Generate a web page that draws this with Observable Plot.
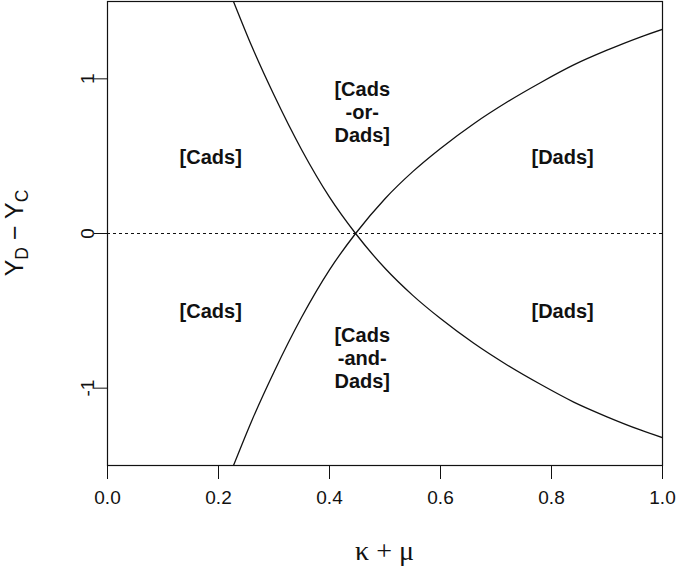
<!DOCTYPE html>
<html><head><meta charset="utf-8">
<script src="https://cdn.jsdelivr.net/npm/d3@7"></script>
<script src="https://cdn.jsdelivr.net/npm/@observablehq/plot@0.6"></script>
<style>body{margin:0;background:#fff} svg{display:block}</style>
</head><body><div id="chart"></div>
<script>
// Curve samples
const curveX      = [0.227, 0.26, 0.30, 0.35, 0.40, 0.447, 0.50, 0.55, 0.60, 0.66, 0.72, 0.78, 0.84, 0.90, 0.96, 1.0];
const decreasingY = [1.50, 1.21, 0.895, 0.54, 0.235, 0, -0.225, -0.40, -0.55, -0.71, -0.85, -0.975, -1.09, -1.185, -1.27, -1.32];
const increasingY = [-1.50, -1.21, -0.895, -0.54, -0.235, 0, 0.225, 0.40, 0.55, 0.71, 0.85, 0.975, 1.09, 1.185, 1.27, 1.32];

const xTicks = [0, 0.2, 0.4, 0.6, 0.8, 1.0];
const yTicks = [-1, 0, 1];

const regionLabels = ["[Cads]", "[Cads]", "[Dads]", "[Dads]", "[Cads\n-or-\nDads]", "[Cads\n-and-\nDads]"];
const labelX = [0.186, 0.186, 0.82, 0.82, 0.459, 0.459];
const labelY = [0.5, -0.5, 0.5, -0.5, 0.79, -0.8];

const decData = curveX.map((x, i) => ({x, y: decreasingY[i]}));
const incData = curveX.map((x, i) => ({x, y: increasingY[i]}));
const labData = regionLabels.map((t, i) => ({t, x: labelX[i], y: labelY[i]}));

const W = 677, H = 574;
const plot = Plot.plot({
  width: W, height: H,
  marginLeft: 107, marginRight: 15, marginTop: 1, marginBottom: 109,
  x: {domain: [0, 1]},
  y: {domain: [-1.5, 1.5]},
  style: {fontFamily: "'Liberation Sans', Arial, sans-serif", fontSize: "19px", color: "#111", background: "#fff"},
  marks: [
    Plot.ruleY([0], {stroke: "#111", strokeDasharray: "3,3", strokeWidth: 1}),
    Plot.line(decData, {x: "x", y: "y", curve: "monotone-x", stroke: "#111", strokeWidth: 1.3, clip: true}),
    Plot.line(incData, {x: "x", y: "y", curve: "monotone-x", stroke: "#111", strokeWidth: 1.3, clip: true}),
    Plot.text(labData, {x: "x", y: "y", text: "t", fontWeight: "bold", fontSize: 20, lineHeight: 1.15,
      textAnchor: "middle", lineAnchor: "middle", fill: "#111"}),
    Plot.frame({stroke: "#111", strokeWidth: 1.2}),
    Plot.axisX({ticks: xTicks, tickSize: 14, tickPadding: 11, tickFormat: d3.format(".1f"), label: null, stroke: "#111", fill: "#111"}),
    Plot.axisY({ticks: yTicks, tickSize: 13, label: null, stroke: "#111", fill: "none", tickFormat: () => ""}),
    Plot.text(yTicks, {y: d => d, text: d => String(d), frameAnchor: "left", dx: -20, rotate: -90,
      textAnchor: "middle", lineAnchor: "middle", fontSize: 19, fill: "#111"})
  ]
});
document.getElementById("chart").appendChild(plot);

const svg = d3.select(plot);
// y axis title: Y_D − Y_C
const yt = svg.append("text")
  .attr("transform", "translate(23,233) rotate(-90)")
  .attr("text-anchor", "middle")
  .attr("font-family", "'Liberation Sans', Arial, sans-serif")
  .attr("font-size", 25).attr("fill", "#111");
yt.append("tspan").text("Y");
yt.append("tspan").attr("font-size", 17.5).attr("dy", 5).text("D");
yt.append("tspan").attr("dy", -5).text(" \u2212 Y");
yt.append("tspan").attr("font-size", 17.5).attr("dy", 5).text("C");

// x axis title: κ + μ
svg.append("text")
  .attr("x", 384.5).attr("y", 560)
  .attr("text-anchor", "middle")
  .attr("font-family", "'Liberation Serif', 'DejaVu Serif', serif")
  .attr("font-size", 28).attr("fill", "#111")
  .text("\u03BA + \u03BC");
</script>
</body></html>
